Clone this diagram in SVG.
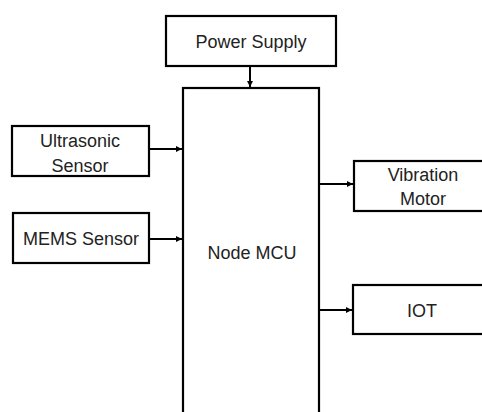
<svg xmlns="http://www.w3.org/2000/svg" width="482" height="412" viewBox="0 0 482 412">
<defs>
<style>
.box{fill:#fff;stroke:#000;stroke-width:2.2}
.lbl{font-family:"Liberation Sans",Arial,sans-serif;font-size:18px;fill:#222;text-anchor:middle}
.con{stroke:#000;stroke-width:2;fill:none}
</style>
<marker id="ah" viewBox="0 0 6 6" refX="6" refY="3" markerWidth="6" markerHeight="6" markerUnits="userSpaceOnUse" orient="auto">
<path d="M0,0 L6,3 L0,6 Z" fill="#000"/>
</marker>
</defs>
<rect width="482" height="412" fill="#fff"/>
<g id="power">
<rect class="box" x="166" y="16" width="170" height="50"/>
<text class="lbl" x="251" y="48">Power Supply</text>
</g>
<g id="mcu">
<rect class="box" x="183" y="88" width="136" height="340"/>
<text class="lbl" x="252" y="259">Node MCU</text>
</g>
<g id="ultrasonic">
<rect class="box" x="12" y="126" width="137" height="50"/>
<text class="lbl" x="80" y="147">Ultrasonic</text>
<text class="lbl" x="80" y="172">Sensor</text>
</g>
<g id="mems">
<rect class="box" x="13" y="213" width="136" height="50"/>
<text class="lbl" x="81" y="245">MEMS Sensor</text>
</g>
<g id="vibration">
<rect class="box" x="354" y="161" width="140" height="50"/>
<text class="lbl" x="423" y="181">Vibration</text>
<text class="lbl" x="423" y="205">Motor</text>
</g>
<g id="iot">
<rect class="box" x="353" y="285" width="140" height="49"/>
<text class="lbl" x="422" y="317">IOT</text>
</g>
<g id="connectors">
<line class="con" x1="250" y1="67" x2="250" y2="87" marker-end="url(#ah)"/>
<line class="con" x1="150" y1="149" x2="182" y2="149" marker-end="url(#ah)"/>
<line class="con" x1="150" y1="239" x2="182" y2="239" marker-end="url(#ah)"/>
<line class="con" x1="320" y1="184" x2="353" y2="184" marker-end="url(#ah)"/>
<line class="con" x1="320" y1="310" x2="352" y2="310" marker-end="url(#ah)"/>
</g>
</svg>
